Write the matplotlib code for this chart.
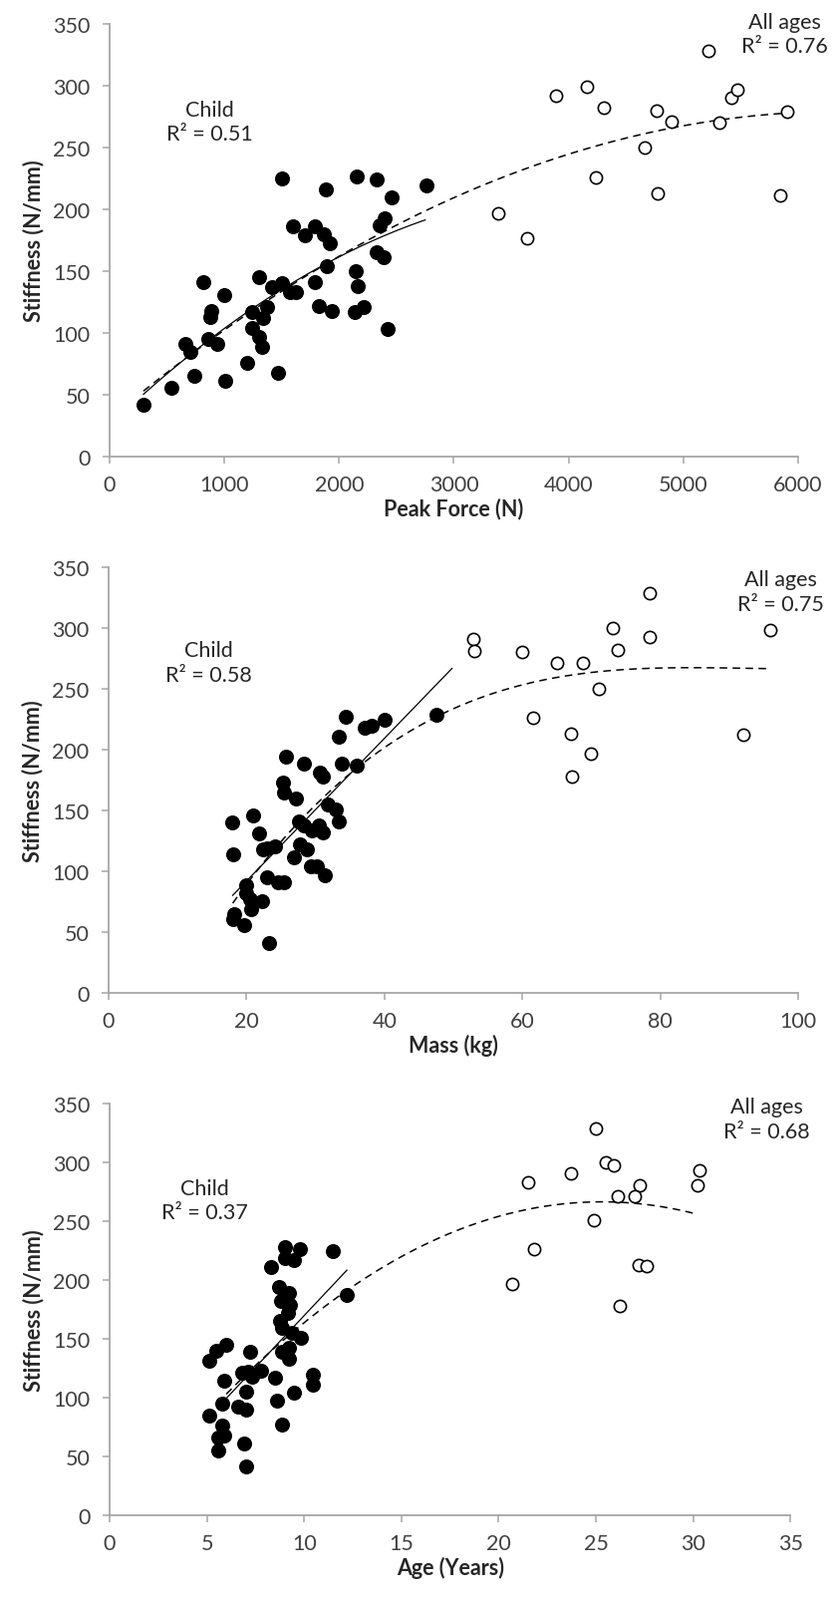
import numpy as np
import matplotlib
matplotlib.use('Agg')
import matplotlib.pyplot as plt

plt.rcParams['font.family'] = ['Lato', 'DejaVu Sans']

#----- 数据：峰值力 -----
force_child_x = [295, 535, 740, 660, 700, 815, 885, 875, 860, 940, 1000, 1010, 1200, 1245, 1245,
                 1300, 1330, 1335, 1375, 1305, 1415, 1465, 1505, 1505, 1570, 1625, 1600, 1705,
                 1785, 1790, 1825, 1865, 1915, 1880, 1895, 1935, 2150, 2145, 2160, 2135, 2210,
                 2330, 2460, 2395, 2350, 2330, 2390, 2420, 2760]
force_child_y = [42, 56, 65, 91, 85, 141, 118, 113, 95, 91, 131, 61, 76, 117, 104,
                 97, 89, 112, 121, 145, 137, 68, 140, 225, 133, 133, 186, 179,
                 186, 141, 122, 180, 173, 216, 154, 118, 227, 150, 138, 117, 121,
                 224, 210, 193, 187, 165, 161, 103, 219]
force_adult_x = [3890, 4155, 4310, 3385, 3640, 4240, 4765, 4895, 4665, 4775, 5215, 5310, 5415, 5470, 5905, 5845]
force_adult_y = [292, 299, 282, 197, 177, 226, 280, 271, 250, 213, 328, 270, 290, 297, 279, 211]

#----- 数据：质量 -----
mass_child_x = [17.9, 18.0, 20.9, 21.8, 22.4, 23.0, 24.2, 20.0, 19.9, 20.5, 20.6, 22.3, 18.2, 18.0,
                19.6, 23.2, 23.0, 24.5, 25.4, 25.7, 25.3, 25.5, 27.2, 28.3, 30.6, 31.0, 27.6,
                26.9, 27.8, 28.8, 28.3, 29.5, 29.3, 30.2, 30.5, 31.0, 31.3, 31.8, 32.9, 33.4,
                33.8, 33.4, 34.4, 36.0, 37.2, 38.1, 40.1, 47.6]
mass_child_y = [140, 114, 146, 131, 118, 119, 121, 89, 82, 77, 69, 76, 65, 61,
                56, 41, 95, 91, 91, 194, 173, 165, 160, 189, 181, 178, 141,
                112, 122, 118, 138, 134, 104, 104, 138, 132, 97, 155, 151, 141,
                189, 211, 227, 187, 218, 220, 225, 229]
mass_adult_x = [52.9, 53.0, 60.0, 65.0, 68.8, 71.1, 61.5, 67.1, 69.9, 67.2, 73.1, 73.9, 78.5, 78.5, 96.0, 92.0]
mass_adult_y = [291, 281, 280, 271, 271, 250, 226, 213, 197, 178, 300, 282, 329, 293, 298, 212]

#----- 数据：年龄 -----
age_child_x = [5.1, 5.5, 6.0, 5.9, 5.1, 5.8, 5.8, 5.9, 5.6, 5.6, 6.9, 7.0, 6.8, 7.1, 7.2,
               7.35, 7.8, 7.0, 6.6, 7.0, 8.3, 8.5, 8.6, 8.85, 8.7, 8.8, 9.2, 9.0, 9.0, 9.5,
               9.8, 11.45, 8.75, 8.85, 9.25, 9.15, 9.35, 9.85, 8.85, 9.2, 9.2, 9.5, 10.45, 10.45, 12.2]
age_child_y = [131, 140, 145, 114, 85, 95, 76, 68, 66, 55, 61, 41, 121, 122, 139,
               118, 123, 105, 92, 90, 211, 117, 97, 77, 194, 182, 189, 228, 219, 217,
               226, 225, 165, 159, 179, 172, 155, 151, 139, 142, 133, 104, 119, 111, 187]
age_adult_x = [25.0, 25.5, 25.9, 23.7, 21.5, 27.25, 26.1, 27.0, 30.3, 30.2, 24.9, 21.8, 20.7, 27.2, 27.6, 26.2]
age_adult_y = [329, 300, 298, 291, 283, 281, 271, 271, 293, 281, 251, 226, 197, 213, 212, 178]

#----- 标签 -----
x_labels = ['Peak Force (N)', 'Mass (kg)', 'Age (Years)']
child_r2 = ['0.51', '0.58', '0.37']
all_r2 = ['0.76', '0.75', '0.68']

fig = plt.figure(figsize=(8.37, 16.06), dpi=100)

grey = '#a6a6a6'
txt = '#404040'
fs = 15.5


def panel(rect, cx, cy, ax_, ay_, xmax, xstep, child_deg, all_deg, child_rng, all_rng,
          xlabel, r2c, r2a, child_pos, all_pos):
    ax = fig.add_axes(rect)
    # 趋势线
    pc = np.polyfit(cx, cy, child_deg)
    xs = np.linspace(child_rng[0], child_rng[1], 100)
    ax.plot(xs, np.polyval(pc, xs), color='black', lw=0.9, zorder=2)
    allx = list(cx) + list(ax_)
    ally = list(cy) + list(ay_)
    pa = np.polyfit(allx, ally, all_deg)
    xs = np.linspace(all_rng[0], all_rng[1], 200)
    ax.plot(xs, np.polyval(pa, xs), color='black', lw=1.1, ls=(0, (5, 3.5)), zorder=2)
    # 散点
    ax.plot(cx, cy, 'o', ms=9.8, color='black', mec='black', zorder=3)
    ax.plot(ax_, ay_, 'o', ms=8.8, mfc='white', mec='black', mew=1.2, zorder=3)
    ax.set_xlim(0, xmax)
    ax.set_ylim(0, 350)
    ax.set_xticks(np.arange(0, xmax + xstep / 2, xstep))
    ax.set_yticks(np.arange(0, 351, 50))
    for s in ['top', 'right']:
        ax.spines[s].set_visible(False)
    for s in ['left', 'bottom']:
        ax.spines[s].set_color(grey)
        ax.spines[s].set_linewidth(1.3)
    ax.tick_params(axis='both', direction='out', length=5, width=1.1, color=grey,
                   labelsize=fs, labelcolor=txt)
    ax.tick_params(axis='y', pad=9)
    ax.tick_params(axis='x', pad=8)
    ax.set_xlabel(xlabel, fontsize=fs, fontweight='bold', color='#262626', labelpad=2)
    ax.set_ylabel('Stiffness (N/mm)', fontsize=fs, fontweight='bold', color='#262626', labelpad=6)
    ax.text(child_pos[0], child_pos[1], 'Child\nR² = ' + r2c, ha='center', va='center',
            fontsize=fs, color='#262626', linespacing=1.3)
    ax.text(all_pos[0], all_pos[1], 'All ages\nR² = ' + r2a, ha='center', va='center',
            fontsize=fs, color='#262626', linespacing=1.3, clip_on=False)
    return ax


panel([0.1314, 0.7142, 0.8256, 0.2702], force_child_x, force_child_y, force_adult_x, force_adult_y,
      6000, 1000, 2, 2, (295, 2750), (295, 5906), x_labels[0], child_r2[0], all_r2[0],
      (868, 271), (5885, 342))
panel([0.1302, 0.3790, 0.8268, 0.2661], mass_child_x, mass_child_y, mass_adult_x, mass_adult_y,
      100, 20, 1, 3, (18, 49.8), (18, 96), x_labels[1], child_r2[1], all_r2[1],
      (14.45, 272), (97.4, 330))
panel([0.1314, 0.0531, 0.8164, 0.2568], age_child_x, age_child_y, age_adult_x, age_adult_y,
      35, 5, 1, 2, (6.0, 12.2), (6.0, 30.2), x_labels[2], child_r2[2], all_r2[2],
      (4.87, 268), (33.78, 337))

fig.savefig('out.png', dpi=100)
